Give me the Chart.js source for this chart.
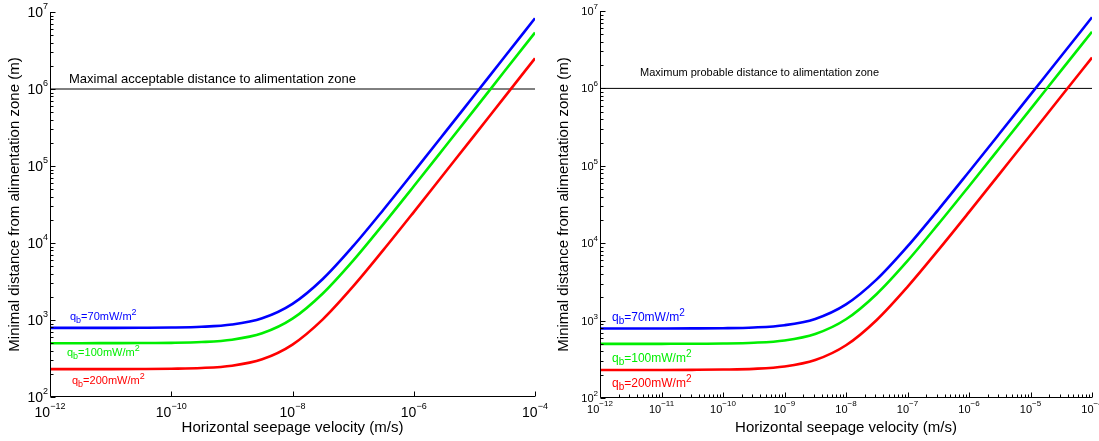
<!DOCTYPE html>
<html>
<head>
<meta charset="utf-8">
<script src="https://cdn.jsdelivr.net/npm/chart.js@4/dist/chart.umd.min.js"></script>
<style>
  body { margin: 0; background: #fff; }
  .panel { position: absolute; top: 0; height: 441px; }
</style>
</head>
<body>
<div class="panel" style="left:0;width:549px"><canvas id="left"></canvas></div>
<div class="panel" style="left:549px;width:550px"><canvas id="right"></canvas></div>
<script>
// horizontal seepage velocity (m/s), half-decade steps
const velocity = [1e-12, 3.16e-12, 1e-11, 3.16e-11, 1e-10, 3.16e-10, 1e-9, 3.16e-9,
  1e-8, 3.16e-8, 1e-7, 3.16e-7, 1e-6, 3.16e-6, 1e-5, 3.16e-5, 1e-4];
// minimal distance (m)
const dist70 = [790, 790, 791, 793, 798, 816, 873, 1052, 1620, 3410, 9090, 27000,
  83800, 263000, 831000, 2620000, 8300000];
const dist100 = [500, 500, 501, 502, 505, 517, 554, 671, 1040, 2210, 5900, 17600,
  54500, 171000, 540000, 1710000, 5400000];
const dist200 = [230, 230, 230, 231, 233, 238, 255, 309, 480, 1020, 2730, 8130,
  25200, 79300, 250000, 791000, 2500000];
const limitDist = 1e6;
const seriesNames = ['70', '100', '200'];
const seriesColors = ['#0000ff', '#00ee00', '#ff0000'];
// tick exponents
const xExpLeft = [-12, -10, -8, -6, -4];
const xExpRight = [-12, -11, -10, -9, -8, -7, -6, -5, -4];
const yExp = [2, 3, 4, 5, 6, 7];

const FONT = '"Liberation Sans", Arial, Helvetica, sans-serif';

function pow10(ctx, exp, x, y, align, size, sup, rise) {
  const base = '10';
  const e = String(exp).replace('-', '\u2212');
  ctx.font = size + 'px ' + FONT;
  const wb = ctx.measureText(base).width;
  ctx.font = sup + 'px ' + FONT;
  const we = ctx.measureText(e).width;
  const x0 = align === 'right' ? x - wb - we : x - (wb + we) / 2;
  ctx.textAlign = 'left';
  ctx.textBaseline = 'alphabetic';
  ctx.font = size + 'px ' + FONT;
  ctx.fillText(base, x0, y);
  ctx.font = sup + 'px ' + FONT;
  ctx.fillText(e, x0 + wb, y - rise);
}

function qLabel(ctx, val, x, y, size, color) {
  const small = Math.round(size * 0.8);
  const parts = [
    ['q', size, 0], ['b', small, -3], ['=' + val + 'mW/m', size, 0], ['2', small, 5]
  ];
  ctx.fillStyle = color;
  ctx.textAlign = 'left';
  ctx.textBaseline = 'alphabetic';
  let cx = x;
  parts.forEach(p => {
    ctx.font = p[1] + 'px ' + FONT;
    ctx.fillText(p[0], cx, y - p[2]);
    cx += ctx.measureText(p[0]).width;
  });
}

const axesPlugin = {
  id: 'matlabAxes',
  afterDraw(chart, args, opt) {
    const ctx = chart.ctx;
    const a = chart.chartArea;
    const xs = chart.scales.x, ys = chart.scales.y;
    const L = Math.round(a.left) + 0.5, B = Math.round(a.bottom) - 0.5;
    ctx.save();
    ctx.strokeStyle = '#000';
    ctx.fillStyle = '#000';
    ctx.lineWidth = 1;
    ctx.beginPath();
    ctx.moveTo(L, a.top); ctx.lineTo(L, B); ctx.lineTo(a.right, B);
    // y ticks, major and minor
    yExp.forEach((e, i) => {
      const py = Math.round(ys.getPixelForValue(Math.pow(10, e))) + 0.5;
      ctx.moveTo(L, py); ctx.lineTo(L + 5, py);
      if (i < yExp.length - 1) {
        for (let m = 2; m < 10; m++) {
          const my = Math.round(ys.getPixelForValue(m * Math.pow(10, e))) + 0.5;
          ctx.moveTo(L, my); ctx.lineTo(L + 3, my);
        }
      }
    });
    // x ticks
    opt.xExp.forEach((e, i) => {
      const px = Math.round(xs.getPixelForValue(Math.pow(10, e))) + 0.5;
      ctx.moveTo(px, B); ctx.lineTo(px, B - 5);
      if (opt.minorX && i < opt.xExp.length - 1) {
        for (let m = 2; m < 10; m++) {
          const mx = Math.round(xs.getPixelForValue(m * Math.pow(10, e))) + 0.5;
          ctx.moveTo(mx, B); ctx.lineTo(mx, B - 3);
        }
      }
    });
    ctx.stroke();

    // tick labels
    yExp.forEach(e => {
      const py = ys.getPixelForValue(Math.pow(10, e));
      pow10(ctx, e, a.left - 2, py + opt.tick * 0.36, 'right', opt.tick, opt.sup, opt.tick * 0.55);
    });
    opt.xExp.forEach(e => {
      const px = xs.getPixelForValue(Math.pow(10, e));
      pow10(ctx, e, px, a.bottom + opt.xLabelDy, 'center', opt.tick, opt.sup, opt.tick * 0.6);
    });

    // axis titles
    ctx.font = '15px ' + FONT;
    ctx.textAlign = 'center';
    ctx.textBaseline = 'alphabetic';
    ctx.fillText('Horizontal seepage velocity (m/s)', (a.left + a.right) / 2, 432);
    ctx.save();
    ctx.translate(opt.yTitleX, (a.top + a.bottom) / 2);
    ctx.rotate(-Math.PI / 2);
    ctx.textBaseline = 'middle';
    ctx.fillText('Minimal distance from alimentation zone (m)', 0, 0);
    ctx.restore();

    // limit annotation
    ctx.font = opt.limitFont + 'px ' + FONT;
    ctx.textAlign = 'left';
    ctx.fillText(opt.limitText, opt.limitPos[0], opt.limitPos[1]);

    // series labels
    seriesNames.forEach((n, i) => {
      qLabel(ctx, n, opt.labelPos[i][0], opt.labelPos[i][1], opt.labelFont, seriesColors[i]);
    });
    ctx.restore();
  }
};

function makeChart(id, padding, opt) {
  const series = [dist70, dist100, dist200].map((d, i) => ({
    data: velocity.map((v, k) => ({ x: v, y: d[k] })),
    borderColor: seriesColors[i],
    borderWidth: 2.6,
    pointRadius: 0,
    cubicInterpolationMode: 'monotone',
    fill: false
  }));
  series.push({
    data: [{ x: velocity[0], y: limitDist }, { x: velocity[velocity.length - 1], y: limitDist }],
    borderColor: '#000',
    borderWidth: 1,
    pointRadius: 0,
    fill: false
  });
  return new Chart(document.getElementById(id), {
    type: 'line',
    data: { datasets: series },
    options: {
      responsive: true,
      maintainAspectRatio: false,
      animation: false,
      layout: { padding: padding },
      plugins: { legend: { display: false }, tooltip: { enabled: false }, matlabAxes: opt },
      scales: {
        x: { type: 'logarithmic', min: 1e-12, max: 1e-4, display: false },
        y: { type: 'logarithmic', min: 1e2, max: 1e7, display: false }
      }
    },
    plugins: [axesPlugin]
  });
}

makeChart('left', { left: 50, right: 14, top: 12, bottom: 44 }, {
  xExp: xExpLeft, minorX: false, tick: 14, sup: 9, xLabelDy: 20,
  yTitleX: 15,
  limitText: 'Maximal acceptable distance to alimentation zone', limitFont: 13, limitPos: [69, 83],
  labelFont: 11, labelPos: [[70, 320], [67, 356], [72, 384]]
});

makeChart('right', { left: 51, right: 7, top: 11, bottom: 43 }, {
  xExp: xExpRight, minorX: true, tick: 11, sup: 8, xLabelDy: 15,
  yTitleX: 15,
  limitText: 'Maximum probable distance to alimentation zone', limitFont: 11, limitPos: [91, 76],
  labelFont: 12, labelPos: [[63, 321], [63, 362], [63, 387]]
});
</script>
</body>
</html>
